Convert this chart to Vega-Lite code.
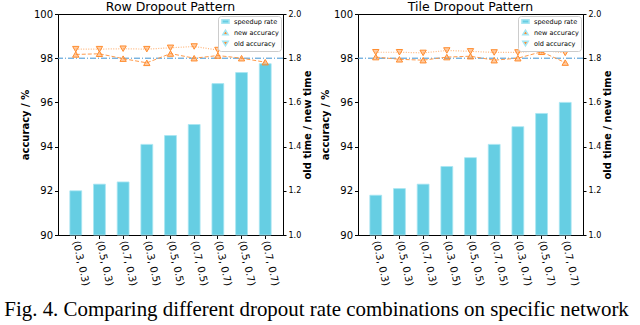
{
  "$schema": "https://vega.github.io/schema/vega-lite/v6.json",
  "padding": {"left": 1, "top": 0, "right": 0, "bottom": 2},
  "datasets": {
    "row": [
      {"combo": "(0.3, 0.3)", "speedup": 1.20, "new accuracy": 98.17, "old accuracy": 98.41},
      {"combo": "(0.5, 0.3)", "speedup": 1.23, "new accuracy": 98.20, "old accuracy": 98.41},
      {"combo": "(0.7, 0.3)", "speedup": 1.24, "new accuracy": 97.98, "old accuracy": 98.43},
      {"combo": "(0.3, 0.5)", "speedup": 1.41, "new accuracy": 97.79, "old accuracy": 98.41},
      {"combo": "(0.5, 0.5)", "speedup": 1.45, "new accuracy": 98.21, "old accuracy": 98.47},
      {"combo": "(0.7, 0.5)", "speedup": 1.50, "new accuracy": 98.00, "old accuracy": 98.53},
      {"combo": "(0.3, 0.7)", "speedup": 1.685, "new accuracy": 98.12, "old accuracy": 98.37},
      {"combo": "(0.5, 0.7)", "speedup": 1.735, "new accuracy": 98.00, "old accuracy": 98.41},
      {"combo": "(0.7, 0.7)", "speedup": 1.775, "new accuracy": 97.82, "old accuracy": 98.44}
    ],
    "tile": [
      {"combo": "(0.3, 0.3)", "speedup": 1.18, "new accuracy": 98.05, "old accuracy": 98.27},
      {"combo": "(0.5, 0.3)", "speedup": 1.21, "new accuracy": 97.95, "old accuracy": 98.27},
      {"combo": "(0.7, 0.3)", "speedup": 1.23, "new accuracy": 97.91, "old accuracy": 98.24},
      {"combo": "(0.3, 0.5)", "speedup": 1.31, "new accuracy": 98.05, "old accuracy": 98.35},
      {"combo": "(0.5, 0.5)", "speedup": 1.35, "new accuracy": 98.09, "old accuracy": 98.31},
      {"combo": "(0.7, 0.5)", "speedup": 1.41, "new accuracy": 97.91, "old accuracy": 98.26},
      {"combo": "(0.3, 0.7)", "speedup": 1.49, "new accuracy": 98.00, "old accuracy": 98.26},
      {"combo": "(0.5, 0.7)", "speedup": 1.55, "new accuracy": 98.29, "old accuracy": 98.35},
      {"combo": "(0.7, 0.7)", "speedup": 1.60, "new accuracy": 97.80, "old accuracy": 98.24}
    ]
  },
  "title": {
    "text": "Fig. 4.  Comparing different dropout rate combinations on specific network",
    "orient": "bottom", "font": "Liberation Serif", "fontSize": 20.9, "fontWeight": "normal",
    "anchor": "middle", "offset": 12, "color": "#000"
  },
  "config": {
    "font": "DejaVu Sans",
    "view": {"stroke": "#000", "strokeWidth": 1},
    "axis": {
      "grid": false, "domainColor": "#000", "tickColor": "#000", "labelColor": "#000", "titleColor": "#000",
      "labelFont": "DejaVu Sans", "titleFont": "DejaVu Sans", "labelFontSize": 10, "titleFontSize": 10,
      "titleFontWeight": "bold", "tickSize": 3.5, "labelPadding": 2
    },
    "title": {"font": "DejaVu Sans", "fontSize": 12.5, "fontWeight": "normal", "offset": -4, "color": "#000"},
    "legend": {
      "orient": "top-right", "offset": 2, "strokeColor": "#cccccc", "fillColor": "#ffffff", "padding": 2,
      "cornerRadius": 3, "labelFontSize": 6.5, "labelFont": "DejaVu Sans", "symbolSize": 30, "rowPadding": 0,
      "labelColor": "#000", "labelOffset": 5, "symbolOffset": 2
    }
  },
  "spacing": 5,
  "resolve": {"scale": {"color": "independent", "shape": "independent"}, "legend": {"color": "independent", "shape": "independent"}},
  "hconcat": [
    {
      "width": 225, "height": 221,
      "title": "Row Dropout Pattern",
      "data": {"name": "row"},
      "resolve": {"scale": {"y": "independent"}},
      "layer": [
        {
          "mark": {"type": "bar", "color": "#66cee3", "stroke": "#a8e6f2", "strokeWidth": 0.8},
          "encoding": {
            "x": {"field": "combo", "type": "nominal", "sort": null, "scale": {"paddingInner": 0.5, "paddingOuter": 0.5},
                  "axis": {"title": null, "labelAngle": 77, "labelAlign": "left", "labelBaseline": "middle", "labelFontSize": 10}},
            "y": {"field": "speedup", "type": "quantitative", "scale": {"domain": [1, 2], "zero": false, "nice": false},
                  "axis": {"orient": "right", "title": "old time / new time", "values": [1, 1.2, 1.4, 1.6, 1.8, 2.0], "format": ".1f", "labelFontSize": 8, "tickSize": 3, "titleAngle": 270, "titleBaseline": "top", "titlePadding": 2}},
            "y2": {"datum": 1},
            "color": {"datum": "speedup rate", "type": "nominal", "title": null,
                      "scale": {"domain": ["speedup rate", "new accuracy", "old accuracy"], "range": ["#66cee3", "#ff8c2e", "#ff8c2e"]}}
          }
        },
        {
          "layer": [
            {
              "data": {"values": [{"ref": 98}]},
              "mark": {"type": "rule", "color": "#3f93d2", "strokeDash": [6, 2, 1, 2], "strokeWidth": 1},
              "encoding": {"y": {"field": "ref", "type": "quantitative", "scale": {"domain": [90, 100], "nice": false, "zero": false},
                           "axis": {"orient": "left", "title": "accuracy / %", "values": [90, 92, 94, 96, 98, 100], "titlePadding": 3}}}
            },
            {
              "mark": {"type": "line", "color": "#ff9a4a", "strokeDash": [4, 2], "strokeWidth": 1},
              "encoding": {"x": {"field": "combo", "type": "nominal", "sort": null}, "y": {"field": "new accuracy", "type": "quantitative"}}
            },
            {
              "mark": {"type": "line", "color": "#ffb57a", "strokeDash": [1, 1.5], "strokeWidth": 1.2},
              "encoding": {"x": {"field": "combo", "type": "nominal", "sort": null}, "y": {"field": "old accuracy", "type": "quantitative"}}
            },
            {
              "transform": [{"fold": ["new accuracy", "old accuracy"], "as": ["series", "acc"]}],
              "mark": {"type": "point", "filled": true, "stroke": "#ff8c2e", "strokeWidth": 1, "fillOpacity": 0.45, "size": 40},
              "encoding": {
                "x": {"field": "combo", "type": "nominal", "sort": null},
                "y": {"field": "acc", "type": "quantitative"},
                "color": {"field": "series", "type": "nominal", "title": null,
                          "scale": {"domain": ["speedup rate", "new accuracy", "old accuracy"], "range": ["#66cee3", "#ff8c2e", "#ff8c2e"]}},
                "shape": {"field": "series", "type": "nominal", "title": null,
                          "scale": {"domain": ["speedup rate", "new accuracy", "old accuracy"], "range": ["M-1.3,-0.6H1.3V0.6H-1.3Z", "triangle-up", "triangle-down"]}}
              }
            }
          ]
        }
      ]
    },
    {
      "width": 225, "height": 221,
      "title": "Tile Dropout Pattern",
      "data": {"name": "tile"},
      "resolve": {"scale": {"y": "independent"}},
      "layer": [
        {
          "mark": {"type": "bar", "color": "#66cee3", "stroke": "#a8e6f2", "strokeWidth": 0.8},
          "encoding": {
            "x": {"field": "combo", "type": "nominal", "sort": null, "scale": {"paddingInner": 0.5, "paddingOuter": 0.5},
                  "axis": {"title": null, "labelAngle": 77, "labelAlign": "left", "labelBaseline": "middle", "labelFontSize": 10}},
            "y": {"field": "speedup", "type": "quantitative", "scale": {"domain": [1, 2], "zero": false, "nice": false},
                  "axis": {"orient": "right", "title": "old time / new time", "values": [1, 1.2, 1.4, 1.6, 1.8, 2.0], "format": ".1f", "labelFontSize": 8, "tickSize": 3, "titleAngle": 270, "titleBaseline": "top", "titlePadding": 2}},
            "y2": {"datum": 1},
            "color": {"datum": "speedup rate", "type": "nominal", "title": null,
                      "scale": {"domain": ["speedup rate", "new accuracy", "old accuracy"], "range": ["#66cee3", "#ff8c2e", "#ff8c2e"]}}
          }
        },
        {
          "layer": [
            {
              "data": {"values": [{"ref": 98}]},
              "mark": {"type": "rule", "color": "#3f93d2", "strokeDash": [6, 2, 1, 2], "strokeWidth": 1},
              "encoding": {"y": {"field": "ref", "type": "quantitative", "scale": {"domain": [90, 100], "nice": false, "zero": false},
                           "axis": {"orient": "left", "title": "accuracy / %", "values": [90, 92, 94, 96, 98, 100], "titlePadding": 3}}}
            },
            {
              "mark": {"type": "line", "color": "#ff9a4a", "strokeDash": [4, 2], "strokeWidth": 1},
              "encoding": {"x": {"field": "combo", "type": "nominal", "sort": null}, "y": {"field": "new accuracy", "type": "quantitative"}}
            },
            {
              "mark": {"type": "line", "color": "#ffb57a", "strokeDash": [1, 1.5], "strokeWidth": 1.2},
              "encoding": {"x": {"field": "combo", "type": "nominal", "sort": null}, "y": {"field": "old accuracy", "type": "quantitative"}}
            },
            {
              "transform": [{"fold": ["new accuracy", "old accuracy"], "as": ["series", "acc"]}],
              "mark": {"type": "point", "filled": true, "stroke": "#ff8c2e", "strokeWidth": 1, "fillOpacity": 0.45, "size": 40},
              "encoding": {
                "x": {"field": "combo", "type": "nominal", "sort": null},
                "y": {"field": "acc", "type": "quantitative"},
                "color": {"field": "series", "type": "nominal", "title": null,
                          "scale": {"domain": ["speedup rate", "new accuracy", "old accuracy"], "range": ["#66cee3", "#ff8c2e", "#ff8c2e"]}},
                "shape": {"field": "series", "type": "nominal", "title": null,
                          "scale": {"domain": ["speedup rate", "new accuracy", "old accuracy"], "range": ["M-1.3,-0.6H1.3V0.6H-1.3Z", "triangle-up", "triangle-down"]}}
              }
            }
          ]
        }
      ]
    }
  ]
}
